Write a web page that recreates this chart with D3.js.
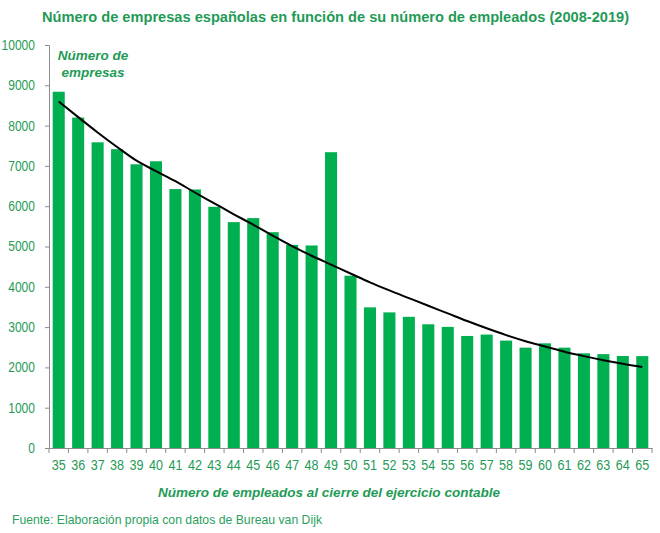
<!DOCTYPE html>
<html>
<head>
<meta charset="utf-8">
<script src="https://cdn.jsdelivr.net/npm/d3@7"></script>
<style>
  body { margin: 0; background: #fff; }
  svg { display: block; font-family: "Liberation Sans", Arial, sans-serif; }
</style>
</head>
<body>
<svg id="chart"></svg>
<script>
// numero de empleados (categorias del eje x)
const empleados = [35, 36, 37, 38, 39, 40, 41, 42, 43, 44, 45, 46, 47, 48, 49, 50,
                   51, 52, 53, 54, 55, 56, 57, 58, 59, 60, 61, 62, 63, 64, 65];
// numero de empresas (barras)
const empresas = [8840, 8200, 7585, 7415, 7040, 7115, 6425, 6415, 5985, 5605, 5705, 5355, 5040, 5025, 7340, 4275,
                  3490, 3365, 3255, 3070, 3005, 2780, 2815, 2665, 2490, 2597, 2490, 2350, 2330, 2283, 2280];
// linea de tendencia
const tendencia = [8600, 8210, 7830, 7470, 7130, 6870, 6620, 6340, 6070, 5800, 5540, 5270, 5010, 4770, 4550, 4330,
                   4110, 3910, 3720, 3530, 3340, 3150, 2970, 2800, 2650, 2520, 2390, 2280, 2180, 2090, 2010];
const yTicks = [0, 1000, 2000, 3000, 4000, 5000, 6000, 7000, 8000, 9000, 10000];

const width = 660;
const height = 533;
const verde = "#1f9b57";

const svg = d3.select("#chart").attr("width", width).attr("height", height);

const xScale = d3.scaleBand().domain(empleados).range([49, 652]).paddingInner(0.38).paddingOuter(0.19);
const yScale = d3.scaleLinear().domain([0, 10000]).range([448, 45]);

// titulo
svg.append("text")
    .attr("x", 42)
    .attr("y", 22)
    .attr("textLength", 587)
    .attr("lengthAdjust", "spacingAndGlyphs")
    .style("font-size", "15px")
    .style("font-weight", "bold")
    .attr("fill", verde)
    .text("Número de empresas españolas en función de su número de empleados (2008-2019)");

// barras
svg.selectAll("rect.bar")
    .data(empleados)
    .enter()
    .append("rect")
    .attr("class", "bar")
    .attr("x", d => xScale(d))
    .attr("y", (d, i) => yScale(empresas[i]))
    .attr("width", xScale.bandwidth())
    .attr("height", (d, i) => yScale(0) - yScale(empresas[i]))
    .attr("fill", "#00b050");

// eje y
const yAxis = svg.append("g")
    .attr("transform", "translate(49,0)")
    .call(d3.axisLeft(yScale).tickValues(yTicks).tickSize(4).tickPadding(10).tickFormat(d3.format("d")));
yAxis.select(".domain").attr("stroke", "#8c8c8c");
yAxis.selectAll(".tick line").attr("stroke", "#8c8c8c");
yAxis.selectAll(".tick text")
    .attr("fill", verde)
    .attr("textLength", d => String(d).length * 6.7)
    .attr("lengthAdjust", "spacingAndGlyphs")
    .style("font-size", "14px")
    .style("font-family", "'Liberation Sans', Arial, sans-serif");

// eje x: etiquetas en el centro, marcas entre categorias
const xAxis = svg.append("g")
    .attr("transform", "translate(0,448)")
    .call(d3.axisBottom(xScale).tickSize(0).tickPadding(12));
xAxis.select(".domain").attr("stroke", "#8c8c8c");
xAxis.selectAll(".tick text")
    .attr("fill", verde)
    .attr("textLength", 14)
    .attr("lengthAdjust", "spacingAndGlyphs")
    .style("font-size", "14px")
    .style("font-family", "'Liberation Sans', Arial, sans-serif");

const paso = xScale.step();
const bordes = empleados.map(d => xScale(d) - paso * xScale.paddingInner() / 2).concat([652]);
xAxis.selectAll("line.borde")
    .data(bordes)
    .enter()
    .append("line")
    .attr("class", "borde")
    .attr("x1", d => d)
    .attr("x2", d => d)
    .attr("y1", 0)
    .attr("y2", 5)
    .attr("stroke", "#8c8c8c");

// linea de tendencia
const linea = d3.line()
    .x((d, i) => xScale(empleados[i]) + xScale.bandwidth() / 2)
    .y(d => yScale(d))
    .curve(d3.curveMonotoneX);
svg.append("path")
    .datum(tendencia)
    .attr("d", linea)
    .attr("fill", "none")
    .attr("stroke", "#000")
    .attr("stroke-width", 2);

// etiqueta del eje y
const etiqueta = svg.append("text")
    .attr("text-anchor", "middle")
    .style("font-size", "13.5px")
    .style("font-weight", "bold")
    .style("font-style", "italic")
    .attr("fill", verde);
etiqueta.append("tspan").attr("x", 93).attr("y", 60).text("Número de");
etiqueta.append("tspan").attr("x", 93).attr("y", 77).text("empresas");

// titulo del eje x
svg.append("text")
    .attr("x", 158)
    .attr("y", 497)
    .attr("textLength", 342)
    .attr("lengthAdjust", "spacingAndGlyphs")
    .style("font-size", "13.5px")
    .style("font-weight", "bold")
    .style("font-style", "italic")
    .attr("fill", verde)
    .text("Número de empleados al cierre del ejercicio contable");

// fuente
svg.append("text")
    .attr("x", 12)
    .attr("y", 524)
    .attr("textLength", 310)
    .attr("lengthAdjust", "spacingAndGlyphs")
    .style("font-size", "13px")
    .attr("fill", "#2a9f5e")
    .text("Fuente: Elaboración propia con datos de Bureau van Dijk");
</script>
</body>
</html>
